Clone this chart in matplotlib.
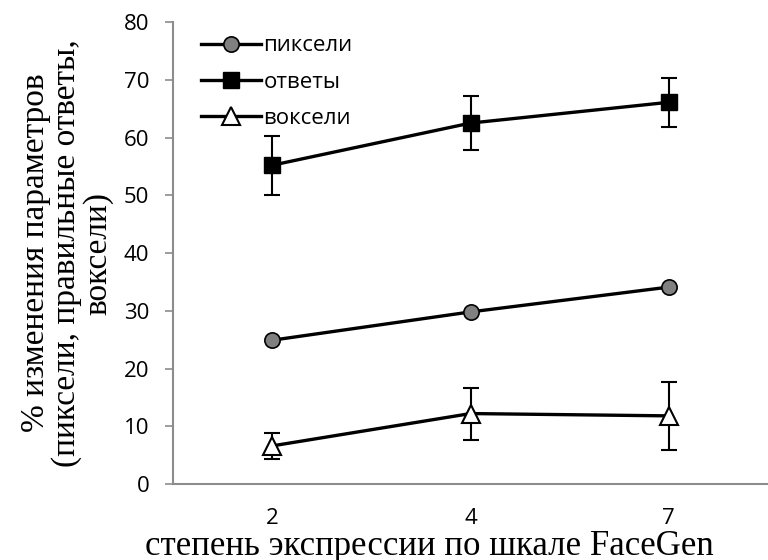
import matplotlib
matplotlib.use("Agg")
import matplotlib.pyplot as plt
from matplotlib.lines import Line2D
import numpy as np

categories = ["2", "4", "7"]
pixels = [24.9, 29.8, 34.1]
answers = [55.2, 62.5, 66.1]
answers_err = [5.1, 4.7, 4.2]
voxels = [6.6, 12.2, 11.8]
voxels_err = [2.2, 4.5, 5.9]
series_names = ['пиксели', 'ответы', 'воксели']

plt.rcParams['font.family'] = ['Open Sans', 'DejaVu Sans']

fig = plt.figure(figsize=(7.68, 5.60), dpi=100)
ax = fig.add_axes([0.2253, 0.1357, 0.7747, 0.8250])
x = np.arange(len(categories))

lw = 2.4
st_pix = dict(color='black', lw=lw, marker='o', markersize=11,
              markerfacecolor='#808080', markeredgecolor='black', markeredgewidth=1.2)
st_ans = dict(color='black', lw=lw, marker='s', markersize=12,
              markerfacecolor='black', markeredgecolor='black')
st_vox = dict(color='black', lw=lw, marker='^', markersize=13,
              markerfacecolor='white', markeredgecolor='black', markeredgewidth=1.5)

ax.plot(x, pixels, zorder=3, **st_pix)
ax.errorbar(x, answers, yerr=answers_err, ecolor='black', elinewidth=1.5,
            capsize=6, capthick=1.5, zorder=3, **st_ans)
ax.errorbar(x, voxels, yerr=voxels_err, ecolor='black', elinewidth=1.5,
            capsize=6, capthick=1.5, zorder=3, **st_vox)

ax.set_xlim(-0.5, 2.5)
ax.set_ylim(0, 80)
ax.set_yticks(np.arange(0, 81, 10))
ax.set_xticks(x)
ax.set_xticklabels(categories)
for s in ['top', 'right']:
    ax.spines[s].set_visible(False)
for s in ['left', 'bottom']:
    ax.spines[s].set_color('#8c8c8c')
    ax.spines[s].set_linewidth(1.5)
ax.tick_params(axis='y', direction='out', length=6, width=1.2, color='#8c8c8c',
               labelsize=16, pad=11)
ax.tick_params(axis='x', length=0, labelsize=16, pad=17)

ax.set_ylabel('% изменения параметров\n(пиксели, правильные ответы,\nвоксели)',
              family=['Liberation Serif'], fontsize=24, linespacing=1.0)
ax.yaxis.set_label_coords(-0.101, 0.5)
ax.set_xlabel('степень экспрессии по шкале FaceGen', family=['Liberation Serif'],
              fontsize=25)
ax.xaxis.label.set_va('baseline')
ax.xaxis.set_label_coords(0.43, -0.153)

handles = [Line2D([], [], **st_pix), Line2D([], [], **st_ans), Line2D([], [], **st_vox)]
leg = ax.legend(handles, series_names, loc='upper left', bbox_to_anchor=(0.025, 1.0),
                frameon=False, fontsize=16, handlelength=2.7, handletextpad=0.1,
                labelspacing=0.69, borderaxespad=0.2)

fig.savefig('out.png', dpi=100)
